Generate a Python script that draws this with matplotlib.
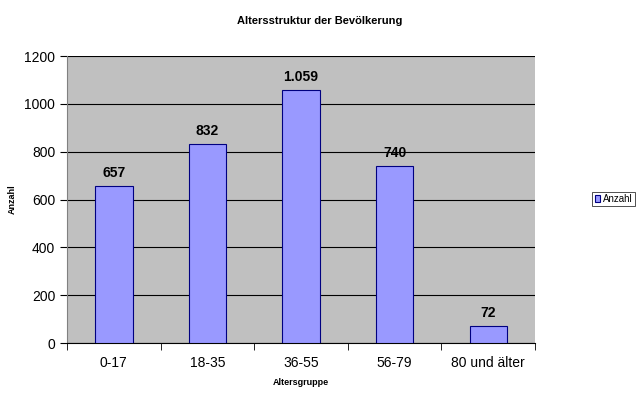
import matplotlib
matplotlib.use("Agg")
import matplotlib.pyplot as plt
import numpy as np

plt.rcParams['font.family'] = ['Liberation Sans', 'DejaVu Sans']

gruppen = ['0-17', '18-35', '36-55', '56-79', '80 und älter']
anzahl = [657, 832, 1059, 740, 72]
y_ticks = [0, 200, 400, 600, 800, 1000, 1200]


def fmt_de(v):
    return f'{v:,}'.replace(',', '.')


fig = plt.figure(figsize=(6.4, 3.98), dpi=100)
ax = fig.add_axes([0.1047, 0.138, 0.7313, 0.721])
ax.set_facecolor('#C0C0C0')

x = np.arange(len(gruppen))
bars = ax.bar(x, anzahl, width=0.4, color='#9999FF', edgecolor='#000080',
              linewidth=0.8, zorder=3, label='Anzahl')

for b, v in zip(bars, anzahl):
    ax.text(b.get_x() + b.get_width() / 2, v + 25, fmt_de(v),
            ha='center', va='bottom', fontsize=10, fontweight='bold', zorder=4)

ax.set_xlim(-0.5, len(gruppen) - 0.5)
ax.set_ylim(0, 1200)
ax.set_yticks(y_ticks)
ax.set_yticklabels([str(t) for t in y_ticks], fontsize=10)
ax.yaxis.grid(True, color='black', linewidth=0.8, zorder=1)

ax.set_xticks(x)
ax.set_xticklabels(gruppen, fontsize=10)
ax.tick_params(axis='x', length=0, pad=9)
ax.set_xticks(np.arange(-0.5, len(gruppen)), minor=True)
ax.tick_params(axis='x', which='minor', length=5, color='black')
ax.tick_params(axis='y', length=5, color='black')

for s in ['top', 'right']:
    ax.spines[s].set_visible(False)
ax.spines['left'].set_color('#808080')
ax.spines['bottom'].set_color('black')

ax.set_xlabel('Altersgruppe', fontsize=6.5, fontweight='bold', labelpad=6)
ax.set_ylabel('Anzahl', fontsize=6.5, fontweight='bold')
ax.yaxis.set_label_coords(-0.107, 0.5)
fig.text(0.5, 0.94, 'Altersstruktur der Bevölkerung', ha='center',
         fontsize=8, fontweight='bold')

leg = ax.legend(loc='center right', bbox_to_anchor=(0.992, 0.5),
                bbox_transform=fig.transFigure, fontsize=7,
                frameon=True, fancybox=False, edgecolor='black',
                handlelength=0.6, handleheight=0.6, handletextpad=0.25,
                borderpad=0.25, borderaxespad=0)
leg.get_frame().set_linewidth(0.6)

fig.savefig('out.png', dpi=100)
